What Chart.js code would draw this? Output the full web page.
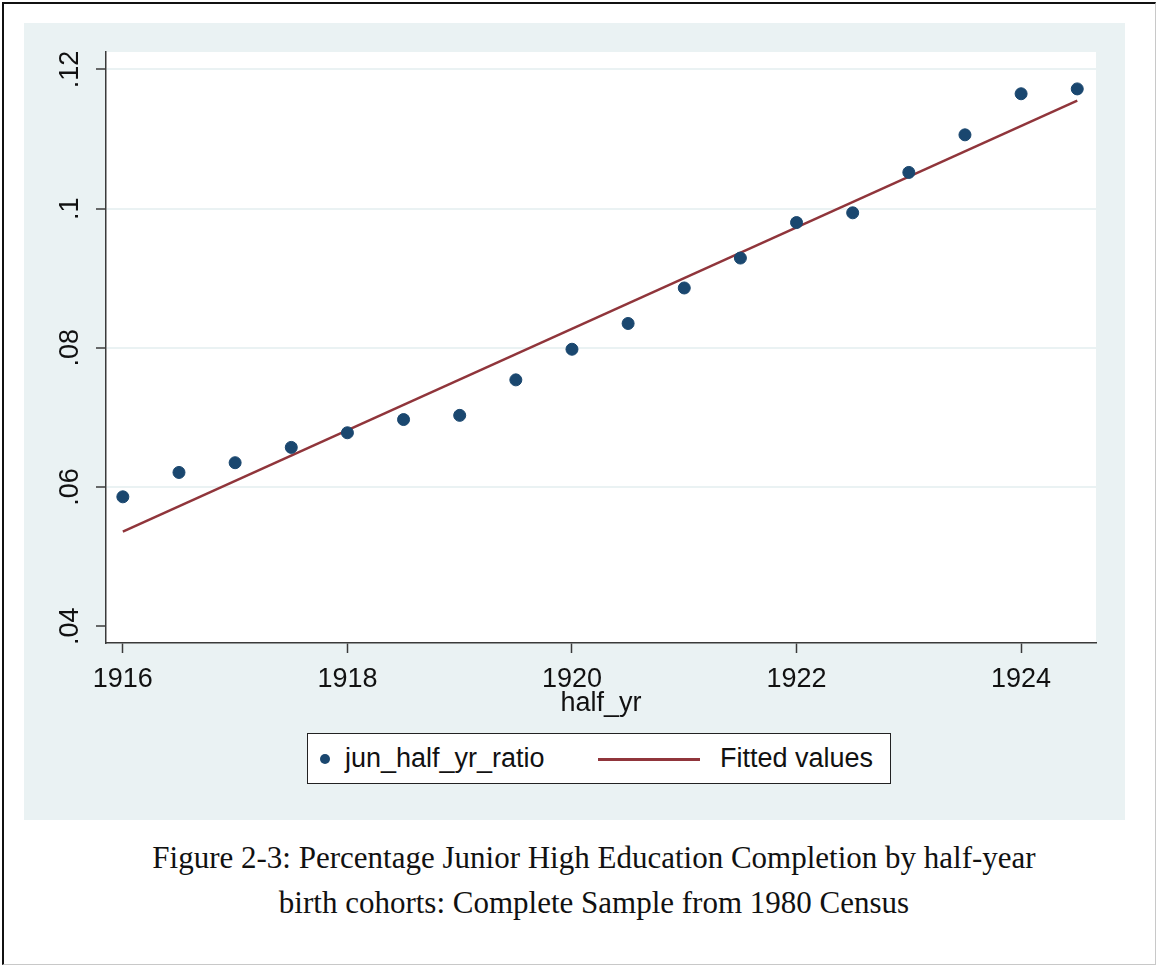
<!DOCTYPE html>
<html>
<head>
<meta charset="utf-8">
<title>Junior High Completion by half-year cohort</title>
<script src="https://cdn.jsdelivr.net/npm/chart.js@4.4.1/dist/chart.umd.min.js"></script>
<style>
  html, body { margin: 0; padding: 0; background: #fff; }
  body { width: 1156px; height: 965px; position: relative; overflow: hidden; }
  .frame {
    position: absolute; left: 2px; top: 2px; width: 1151px; height: 960px;
    border-top: 2px solid #111; border-left: 2px solid #111;
    border-right: 1px solid #c8c8c8; border-bottom: 1px solid #c8c8c8;
  }
  .panel {
    position: absolute; left: 24px; top: 23px; width: 1101px; height: 797px;
    background: #eaf2f3;
  }
  #chart-wrap { position: absolute; left: 0; top: 0; width: 1101px; height: 697px; }
  .legend {
    position: absolute; left: 283px; top: 710px; width: 582px; height: 49px;
    border: 1.5px solid #222; background: #fff;
    font-family: "Liberation Sans", Arial, sans-serif; font-size: 27px; color: #111;
  }
  .legend .item { position: absolute; top: 0; height: 49px; line-height: 49px; white-space: nowrap; }
  .legend .dot { position: absolute; width: 10px; height: 10px; border-radius: 50%; top: 20px; }
  .legend .line { position: absolute; height: 3px; top: 24px; }
  .caption {
    position: absolute; left: 0; top: 835px; width: 1188px; text-align: center;
    font-family: "Liberation Serif", "Times New Roman", serif; font-size: 31px; line-height: 45px; color: #111;
  }
</style>
</head>
<body>
<div class="frame"></div>
<div class="panel">
  <div id="chart-wrap"><canvas id="scatterChart"></canvas></div>
  <div class="legend" id="legend"></div>
</div>
<div class="caption">Figure 2-3: Percentage Junior High Education Completion by half-year<br>birth cohorts: Complete Sample from 1980 Census</div>

<script>
// half-year birth cohorts
const halfYears = [1916, 1916.5, 1917, 1917.5, 1918, 1918.5, 1919, 1919.5, 1920,
                   1920.5, 1921, 1921.5, 1922, 1922.5, 1923, 1923.5, 1924, 1924.5];
const ratios = [0.0586, 0.0621, 0.0635, 0.0657, 0.0678, 0.0697, 0.0703, 0.0754, 0.0798,
                0.0835, 0.0886, 0.0929, 0.0980, 0.0994, 0.1052, 0.1106, 0.1165, 0.1172];

// fitted line
const fittedX = [1916, 1924.5];
const fittedY = [0.0536, 0.1155];

const xTicks = [1916, 1918, 1920, 1922, 1924];
const yTicks = [0.04, 0.06, 0.08, 0.10, 0.12];
const yTickLabels = ['.04', '.06', '.08', '.1', '.12'];

const seriesNames = ['jun_half_yr_ratio', 'Fitted values'];
const navy = '#1a476f';
const maroon = '#90353b';
const axisColor = '#3a3a3a';
const gridColor = '#eaf2f3';
const tickFont = { family: '"Liberation Sans", Arial, sans-serif', size: 27 };

// white plot region inside the bluish-gray graph region
const plotBackground = {
    id: 'plotBackground',
    beforeDraw(chart) {
        const a = chart.chartArea;
        const c = chart.ctx;
        c.save();
        c.fillStyle = '#ffffff';
        c.fillRect(a.left, a.top, a.right - a.left, a.bottom - a.top);
        c.restore();
    }
};

const ctx = document.getElementById('scatterChart').getContext('2d');

new Chart(ctx, {
    type: 'scatter',
    data: {
        datasets: [{
            label: seriesNames[0],
            data: halfYears.map((x, i) => ({ x: x, y: ratios[i] })),
            backgroundColor: navy,
            borderColor: navy,
            pointRadius: 6,
            pointHoverRadius: 6,
            order: 1
        }, {
            label: seriesNames[1],
            type: 'line',
            data: fittedX.map((x, i) => ({ x: x, y: fittedY[i] })),
            borderColor: maroon,
            borderWidth: 2.5,
            pointRadius: 0,
            fill: false,
            order: 2
        }]
    },
    options: {
        responsive: true,
        maintainAspectRatio: false,
        animation: false,
        layout: { padding: { left: 0, top: 29, right: 29, bottom: 0 } },
        plugins: {
            legend: { display: false },
            tooltip: { enabled: false }
        },
        scales: {
            x: {
                type: 'linear',
                min: 1915.85,
                max: 1924.667,
                afterBuildTicks: scale => { scale.ticks = xTicks.map(v => ({ value: v })); },
                afterFit: scale => { scale.height = 77; },
                border: { color: axisColor, width: 1.5 },
                grid: { drawOnChartArea: false, drawTicks: true, tickLength: 10, tickColor: axisColor, tickWidth: 1.5 },
                ticks: { color: '#111', font: tickFont, padding: 10, maxRotation: 0, callback: v => String(v) },
                title: {
                    display: true, text: 'half_yr', color: '#111',
                    font: { family: '"Liberation Sans", Arial, sans-serif', size: 27 },
                    padding: { top: -11, bottom: 0 }
                }
            },
            y: {
                min: 0.0376,
                max: 0.1225,
                afterBuildTicks: scale => { scale.ticks = yTicks.map(v => ({ value: v })); },
                afterFit: scale => { scale.width = 82; },
                border: { color: axisColor, width: 1.5 },
                grid: {
                    color: c => (c.tick && c.tick.value > 0.045 ? gridColor : 'rgba(0,0,0,0)'),
                    lineWidth: 2,
                    drawTicks: true, tickLength: 10, tickColor: axisColor, tickWidth: 1.5
                },
                ticks: {
                    color: '#111', font: tickFont, padding: 7,
                    minRotation: 90, maxRotation: 90, crossAlign: 'center',
                    callback: (v) => {
                        const i = yTicks.findIndex(t => Math.abs(t - v) < 1e-9);
                        return i >= 0 ? yTickLabels[i] : '';
                    }
                }
            }
        }
    },
    plugins: [plotBackground]
});

// legend box in the Stata style
const legend = document.getElementById('legend');
legend.innerHTML = `
    <span class="dot" style="left: 12px; background: ${navy};"></span>
    <span class="item" style="left: 37px;">${seriesNames[0]}</span>
    <span class="line" style="left: 290px; width: 102px; background: ${maroon};"></span>
    <span class="item" style="left: 412px;">${seriesNames[1]}</span>
`;
</script>
</body>
</html>
